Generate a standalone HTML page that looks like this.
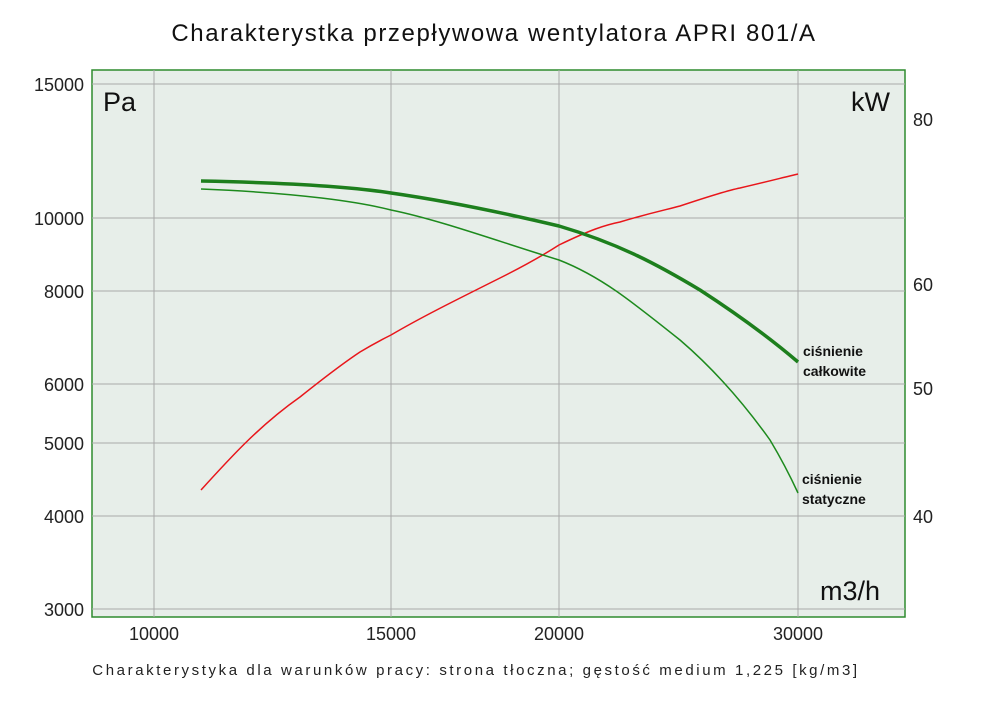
<!DOCTYPE html>
<html><head><meta charset="utf-8"><style>
body{margin:0;background:#fff;width:1000px;height:706px;overflow:hidden}
svg text{font-family:"Liberation Sans","DejaVu Sans",sans-serif}
</style></head><body>
<svg width="1000" height="706" viewBox="0 0 1000 706">
<text x="494" y="41" text-anchor="middle" font-size="24" fill="#111" letter-spacing="1.6">Charakterystka przepływowa wentylatora APRI 801/A</text>
<rect x="92" y="70" width="813" height="547" fill="#e7eee9" stroke="#2e8b2e" stroke-width="1.5"/>
<g stroke="#a9a9a9" stroke-width="1">
<line x1="154" y1="70" x2="154" y2="617"/>
<line x1="391" y1="70" x2="391" y2="617"/>
<line x1="559" y1="70" x2="559" y2="617"/>
<line x1="798" y1="70" x2="798" y2="617"/>
<line x1="92" y1="84" x2="905" y2="84"/>
<line x1="92" y1="218" x2="905" y2="218"/>
<line x1="92" y1="291" x2="905" y2="291"/>
<line x1="92" y1="384" x2="905" y2="384"/>
<line x1="92" y1="443" x2="905" y2="443"/>
<line x1="92" y1="516" x2="905" y2="516"/>
<line x1="92" y1="609" x2="905" y2="609"/>
</g>
<g font-size="18" fill="#222" text-anchor="end">
<text x="84" y="91">15000</text>
<text x="84" y="225">10000</text>
<text x="84" y="298">8000</text>
<text x="84" y="391">6000</text>
<text x="84" y="450">5000</text>
<text x="84" y="523">4000</text>
<text x="84" y="616">3000</text>
</g>
<g font-size="18" fill="#222">
<text x="913" y="126">80</text>
<text x="913" y="291">60</text>
<text x="913" y="395">50</text>
<text x="913" y="523">40</text>
</g>
<g font-size="18" fill="#222" text-anchor="middle">
<text x="154" y="640">10000</text>
<text x="391" y="640">15000</text>
<text x="559" y="640">20000</text>
<text x="798" y="640">30000</text>
</g>
<text x="103" y="111" font-size="27" fill="#111">Pa</text>
<text x="851" y="111" font-size="27" fill="#111">kW</text>
<text x="820" y="600" font-size="27" fill="#111">m3/h</text>
<path d="M201,490 C230,458 260,425 300,397 C330,373 345,362 360,352 C375,343 385,338 391,335 C420,318 450,303 500,278 C530,263 545,254 559,245 C590,230 605,225 620,222 C650,213 665,210 680,206 C710,196 730,190 740,188 C770,181 785,177 798,174" fill="none" stroke="#e8161b" stroke-width="1.5"/>
<path d="M201,181 C300,183 360,188 391,193 C440,200 500,212 559,226 C620,244 660,266 700,290 C740,316 770,338 798,362" fill="none" stroke="#1d7f1d" stroke-width="3.5"/>
<path d="M201,189 C300,193 360,202 391,210 C440,220 500,242 559,260 C600,276 630,300 680,340 C715,370 745,405 770,440 C785,465 792,480 798,493" fill="none" stroke="#1d8a1d" stroke-width="1.5"/>
<g font-size="14" font-weight="bold" fill="#111">
<text x="803" y="356">ciśnienie</text>
<text x="803" y="376">całkowite</text>
<text x="802" y="484">ciśnienie</text>
<text x="802" y="504">statyczne</text>
</g>
<text x="476" y="675" text-anchor="middle" font-size="15" fill="#222" letter-spacing="2.6">Charakterystyka dla warunków pracy: strona tłoczna; gęstość medium 1,225 [kg/m3]</text>
</svg>
</body></html>
